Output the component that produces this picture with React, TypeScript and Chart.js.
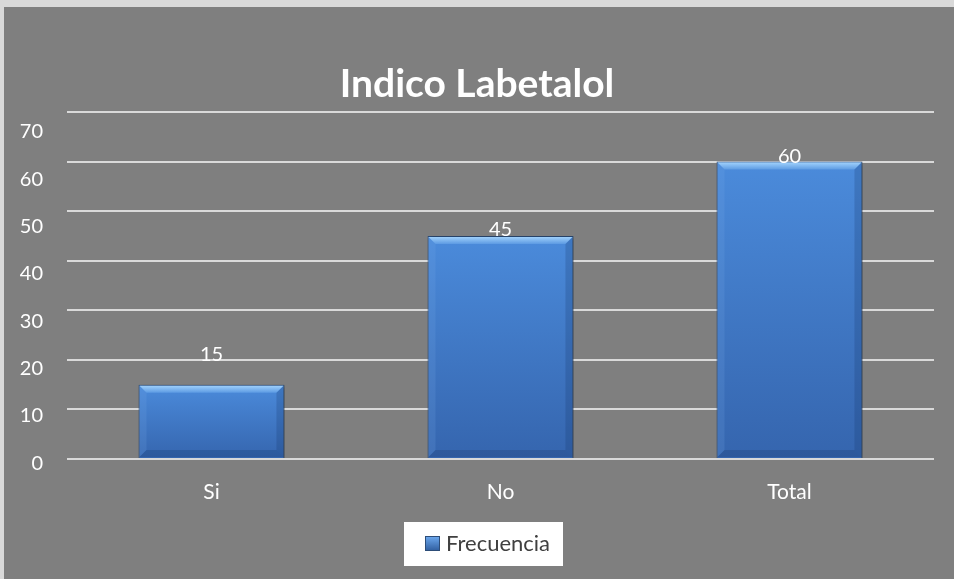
import React, { useEffect, useRef } from "react";
import { Chart, registerables } from "chart.js";

Chart.register(...registerables);

const chartTitle = "Indico Labetalol";
const seriesLabel = "Frecuencia";
const categories = ["Si", "No", "Total"];
const frecuencia = [15, 45, 60];
const yTickValues = [0, 10, 20, 30, 40, 50, 60, 70];

const FONT = "Lato, 'Open Sans', sans-serif";

export default function App() {
  const ref = useRef<HTMLCanvasElement | null>(null);

  useEffect(() => {
    document.body.style.margin = "0";
    const canvas = ref.current;
    if (!canvas) return;

    const labelOffsets = [30, 6, 5];

    const background = {
      id: "bgPanel",
      beforeDraw(chart: any) {
        const { ctx, width, height } = chart;
        ctx.save();
        ctx.fillStyle = "#d9d9d9";
        ctx.fillRect(0, 0, width, height);
        ctx.fillStyle = "#7f7f7f";
        ctx.fillRect(4, 7, width - 4, height - 7);
        ctx.restore();
      },
    };

    const barFx = {
      id: "barFx",
      beforeDatasetsDraw(chart: any) {
        const ctx = chart.ctx;
        ctx.save();
        ctx.shadowColor = "rgba(0,0,0,0.45)";
        ctx.shadowBlur = 4;
        ctx.shadowOffsetX = 2;
        ctx.shadowOffsetY = 1;
      },
      afterDatasetsDraw(chart: any) {
        const ctx = chart.ctx;
        ctx.restore();
        const meta = chart.getDatasetMeta(0);
        meta.data.forEach((el: any, i: number) => {
          const left = el.x - el.width / 2 + 1;
          const right = el.x + el.width / 2 - 1;
          const top = el.y + 1;
          const bottom = el.base - 1;
          const b = 7;
          ctx.save();
          const g = ctx.createLinearGradient(0, top, 0, top + b);
          g.addColorStop(0, "#9fd0fb");
          g.addColorStop(1, "#5d9be3");
          ctx.fillStyle = g;
          ctx.beginPath();
          ctx.moveTo(left, top);
          ctx.lineTo(right, top);
          ctx.lineTo(right - b, top + b);
          ctx.lineTo(left + b, top + b);
          ctx.closePath();
          ctx.fill();
          ctx.fillStyle = "rgba(120,170,235,0.18)";
          ctx.beginPath();
          ctx.moveTo(left, top);
          ctx.lineTo(left + b, top + b);
          ctx.lineTo(left + b, bottom - b);
          ctx.lineTo(left, bottom);
          ctx.closePath();
          ctx.fill();
          ctx.fillStyle = "rgba(20,50,100,0.22)";
          ctx.beginPath();
          ctx.moveTo(right, top);
          ctx.lineTo(right - b, top + b);
          ctx.lineTo(right - b, bottom - b);
          ctx.lineTo(right, bottom);
          ctx.closePath();
          ctx.fill();
          ctx.fillStyle = "rgba(20,45,90,0.22)";
          ctx.beginPath();
          ctx.moveTo(left, bottom);
          ctx.lineTo(right, bottom);
          ctx.lineTo(right - b, bottom - b);
          ctx.lineTo(left + b, bottom - b);
          ctx.closePath();
          ctx.fill();
          ctx.restore();

          ctx.save();
          ctx.fillStyle = "#ffffff";
          ctx.font = `20px ${FONT}`;
          ctx.textAlign = "center";
          ctx.textBaseline = "middle";
          const v = chart.data.datasets[0].data[i];
          ctx.fillText(String(v), el.x, el.y - (labelOffsets[i] ?? 6));
          ctx.restore();
        });
      },
    };

    const titleAndLegend = {
      id: "titleAndLegend",
      afterDraw(chart: any) {
        const ctx = chart.ctx;
        ctx.save();
        ctx.fillStyle = "#ffffff";
        ctx.font = `bold 39px ${FONT}`;
        ctx.textAlign = "center";
        ctx.textBaseline = "alphabetic";
        ctx.fillText(chartTitle, 477, 97);

        ctx.fillStyle = "#ffffff";
        ctx.fillRect(404, 522, 159, 44);
        const g = ctx.createLinearGradient(0, 536, 0, 551);
        g.addColorStop(0, "#6eaaf0");
        g.addColorStop(1, "#2f5d9e");
        ctx.fillStyle = g;
        ctx.fillRect(425, 536, 15, 15);
        ctx.strokeStyle = "#2d4d78";
        ctx.lineWidth = 1;
        ctx.strokeRect(425.5, 536.5, 14, 14);
        ctx.fillStyle = "#404040";
        ctx.font = `22px ${FONT}`;
        ctx.textAlign = "left";
        ctx.textBaseline = "middle";
        ctx.fillText(seriesLabel, 446, 544);
        ctx.restore();
      },
    };

    const chart = new Chart(canvas, {
      type: "bar",
      data: {
        labels: categories,
        datasets: [
          {
            label: seriesLabel,
            data: frecuencia,
            yAxisID: "y",
            backgroundColor: (c: any) => {
              const ch = c.chart;
              const area = ch.chartArea;
              if (!area) return "#4a85d4";
              const ys = ch.scales.y;
              const top = ys.getPixelForValue(c.raw);
              const bottom = ys.getPixelForValue(0);
              const g = ch.ctx.createLinearGradient(0, top, 0, bottom);
              g.addColorStop(0, "#4b8bdb");
              g.addColorStop(1, "#3565ae");
              return g;
            },
            borderColor: "#2b4a74",
            borderWidth: 1,
            categoryPercentage: 1,
            barPercentage: 0.505,
          },
        ],
      },
      options: {
        responsive: false,
        animation: false,
        layout: { padding: { top: 112, right: 20, left: 0, bottom: 0 } },
        plugins: {
          legend: { display: false },
          title: { display: false },
          tooltip: { enabled: false },
        },
        scales: {
          x: {
            grid: { display: false, drawTicks: false },
            border: { display: false },
            ticks: { color: "#ffffff", font: { family: FONT, size: 21 }, padding: 21 },
            afterFit: (s: any) => {
              s.height = 120;
            },
          },
          y2: {
            position: "left",
            min: 0.908,
            max: 74.16,
            grid: { display: false, drawTicks: false },
            border: { display: false },
            ticks: {
              color: "#ffffff",
              font: { family: FONT, size: 20 },
              padding: 24,
              autoSkip: false,
            },
            afterBuildTicks: (s: any) => {
              s.ticks = yTickValues.map((v) => ({ value: v }));
            },
            afterFit: (s: any) => {
              s.width = 67;
            },
          },
          y: {
            position: "left",
            min: 0,
            max: 70,
            ticks: { display: false, stepSize: 10 },
            grid: { color: "#d9d9d9", lineWidth: 2, drawTicks: false },
            border: { display: false },
            afterFit: (s: any) => {
              s.width = 0;
            },
          },
        },
      },
      plugins: [background, barFx, titleAndLegend],
    });

    return () => chart.destroy();
  }, []);

  return (
    <div style={{ width: 954, height: 579 }}>
      <canvas ref={ref} width={954} height={579} style={{ display: "block" }} />
    </div>
  );
}
